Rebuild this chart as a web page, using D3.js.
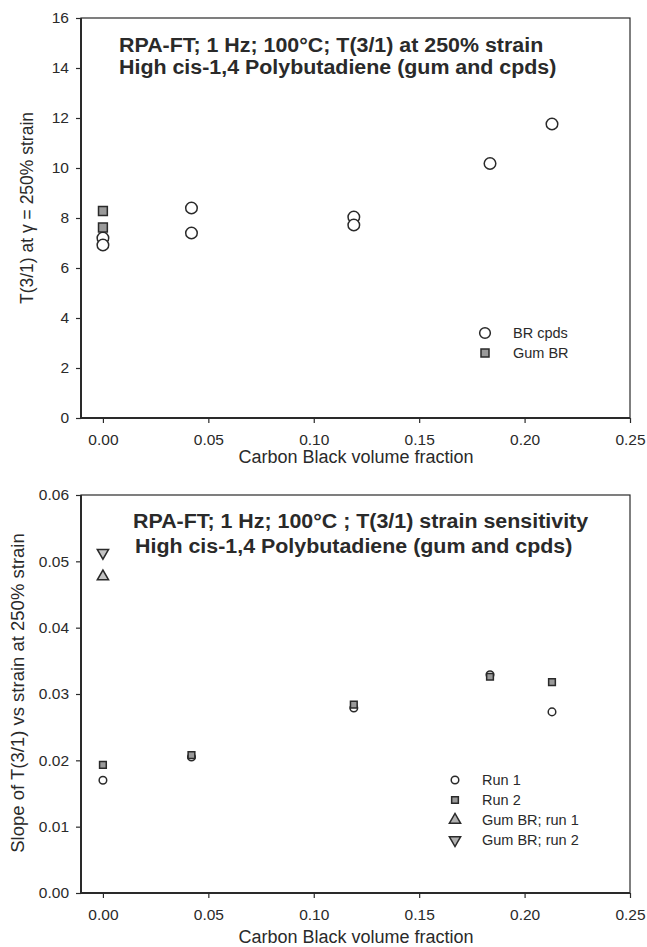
<!DOCTYPE html>
<html><head><meta charset="utf-8">
<script src="https://cdn.jsdelivr.net/npm/d3@7"></script>
<style>body{margin:0;background:#fff;}svg{display:block;font-family:"Liberation Sans",Arial,sans-serif;}</style>
</head><body><svg id="c" width="647" height="947"></svg>
<script>
// ---- data ----
const xTicks = [0.00, 0.05, 0.10, 0.15, 0.20, 0.25];
const topYTicks = [0, 2, 4, 6, 8, 10, 12, 14, 16];
const botYTicks = [0.00, 0.01, 0.02, 0.03, 0.04, 0.05, 0.06];

const brCpdsX = [0.000, 0.000, 0.042, 0.042, 0.119, 0.119, 0.1836, 0.213];
const brCpdsY = [7.20, 6.92, 8.40, 7.40, 8.04, 7.72, 10.18, 11.76];
const gumBRX = [0.000, 0.000];
const gumBRY = [8.28, 7.62];

const run1X = [0.000, 0.042, 0.119, 0.1836, 0.213];
const run1Y = [0.0170, 0.0205, 0.0279, 0.0329, 0.0273];
const run2X = [0.000, 0.042, 0.119, 0.1836, 0.213];
const run2Y = [0.0193, 0.0208, 0.0284, 0.0326, 0.0318];
const gumRun1X = [0.000];
const gumRun1Y = [0.0477];
const gumRun2X = [0.000];
const gumRun2Y = [0.0513];

const svg = d3.select("#c");
const ink = "#2a2a2a";

function panel(o) {
  const g = svg.append("g");
  const x = d3.scaleLinear().domain([-0.0104, 0.25]).range([81, 630]);
  const y = d3.scaleLinear().domain(o.yDom).range([o.bottom, o.top]);
  g.append("rect").attr("x", 81).attr("y", o.top).attr("width", 549).attr("height", o.bottom - o.top)
    .attr("fill", "none").attr("stroke", ink).attr("stroke-width", 1.2);
  const xa = g.append("g").attr("transform", `translate(0,${o.bottom})`)
    .call(d3.axisBottom(x).tickValues(xTicks).tickFormat(d3.format(".2f")).tickSize(5).tickPadding(11));
  const ya = g.append("g").attr("transform", `translate(81,0)`)
    .call(d3.axisLeft(y).tickValues(o.yTicks).tickFormat(o.yFmt).tickSize(5).tickPadding(7));
  [xa, ya].forEach(a => {
    a.select(".domain").attr("stroke", ink).attr("stroke-width", 2);
    a.selectAll(".tick line").attr("stroke", ink).attr("stroke-width", 1.2);
    a.selectAll(".tick text").attr("fill", ink).style("font-size", "15.5px");
  });
  xa.select(".domain").attr("d", `M81,0H630`);
  ya.select(".domain").attr("d", `M0,${o.top}V${o.bottom}`);
  g.append("text").attr("x", 356).attr("y", o.bottom + o.xTitleGap).attr("text-anchor", "middle")
    .attr("fill", ink).style("font-size", "18px").text("Carbon Black volume fraction");
  g.append("text").attr("transform", `translate(${o.yTitleX},${o.yTitleY}) rotate(-90)`)
    .attr("text-anchor", "middle").attr("fill", ink).style("font-size", o.yTitleSize).text(o.yTitle);
  o.title.forEach((t, i) => {
    g.append("text").attr("transform", `translate(${o.titleX[i]},${o.titleY[i]}) scale(1.07,1)`).attr("fill", ink)
      .style("font-size", "20px").style("font-weight", "bold").text(t);
  });
  return {g, x, y};
}

function symbolPts(p, xs, ys, type, size, fill) {
  p.g.append("g").selectAll("path").data(xs.map((d, i) => [d, ys[i]])).join("path")
    .attr("transform", d => `translate(${p.x(d[0])},${p.y(d[1])})`)
    .attr("d", d3.symbol().type(type).size(size))
    .attr("fill", fill).attr("stroke", ink).attr("stroke-width", 1.5);
}
const triDown = {draw(ctx, size){ const s = Math.sqrt(size/ (Math.sqrt(3)/4)); const h = s*Math.sqrt(3)/2;
  ctx.moveTo(-s/2, -h/3); ctx.lineTo(s/2, -h/3); ctx.lineTo(0, 2*h/3); ctx.closePath(); }};
const triUp = {draw(ctx, size){ const s = Math.sqrt(size/ (Math.sqrt(3)/4)); const h = s*Math.sqrt(3)/2;
  ctx.moveTo(-s/2, h/3); ctx.lineTo(s/2, h/3); ctx.lineTo(0, -2*h/3); ctx.closePath(); }};

// ---- top panel ----
const p1 = panel({top: 18, bottom: 418, yDom: [0, 16], yTicks: topYTicks, yFmt: d3.format("d"),
  yTitleX: 33, yTitleY: 208, xTitleGap: 45, yTitleSize: "17.5px", yTitle: "T(3/1) at \u03b3  = 250% strain",
  title: ["RPA-FT; 1 Hz; 100°C; T(3/1) at 250% strain", "High cis-1,4 Polybutadiene (gum and cpds)"],
  titleX: [119, 119], titleY: [52, 74]});
symbolPts(p1, brCpdsX, brCpdsY, d3.symbolCircle, 105, "#fff");
symbolPts(p1, gumBRX, gumBRY, d3.symbolSquare, 78, "#9a9a9a");
const l1 = p1.g.append("g");
l1.append("path").attr("transform", "translate(485,333)").attr("d", d3.symbol().type(d3.symbolCircle).size(90))
  .attr("fill", "#fff").attr("stroke", ink).attr("stroke-width", 1.5);
l1.append("path").attr("transform", "translate(485,353)").attr("d", d3.symbol().type(d3.symbolSquare).size(64))
  .attr("fill", "#9a9a9a").attr("stroke", ink).attr("stroke-width", 1.5);
l1.append("text").attr("x", 513).attr("y", 338).attr("fill", ink).style("font-size", "14.5px").text("BR cpds");
l1.append("text").attr("x", 513).attr("y", 358).attr("fill", ink).style("font-size", "14.5px").text("Gum BR");

// ---- bottom panel ----
const p2 = panel({top: 495, bottom: 893, yDom: [0, 0.06], yTicks: botYTicks, yFmt: d3.format(".2f"),
  yTitleX: 24, yTitleY: 693, xTitleGap: 50, yTitleSize: "18.5px", yTitle: "Slope of T(3/1) vs strain at 250% strain",
  title: ["RPA-FT; 1 Hz; 100°C ; T(3/1) strain sensitivity", "High cis-1,4 Polybutadiene (gum and cpds)"],
  titleX: [133, 135], titleY: [528, 553]});
symbolPts(p2, run1X, run1Y, d3.symbolCircle, 45, "#fff");
symbolPts(p2, run2X, run2Y, d3.symbolSquare, 45, "#9a9a9a");
symbolPts(p2, gumRun1X, gumRun1Y, triUp, 55, "#c4c4c4");
symbolPts(p2, gumRun2X, gumRun2Y, triDown, 55, "#c4c4c4");
const l2 = p2.g.append("g");
const legItems = [[d3.symbolCircle, 45, "#fff", "Run 1"], [d3.symbolSquare, 45, "#9a9a9a", "Run 2"],
  [triUp, 55, "#b0b0b0", "Gum BR; run 1"], [triDown, 55, "#b0b0b0", "Gum BR; run 2"]];
legItems.forEach((it, i) => {
  const yy = 780 + i * 20;
  l2.append("path").attr("transform", `translate(455,${yy})`).attr("d", d3.symbol().type(it[0]).size(it[1]))
    .attr("fill", it[2]).attr("stroke", ink).attr("stroke-width", 1.5);
  l2.append("text").attr("x", 482).attr("y", yy + 5).attr("fill", ink).style("font-size", "14.5px").text(it[3]);
});
</script></body></html>
